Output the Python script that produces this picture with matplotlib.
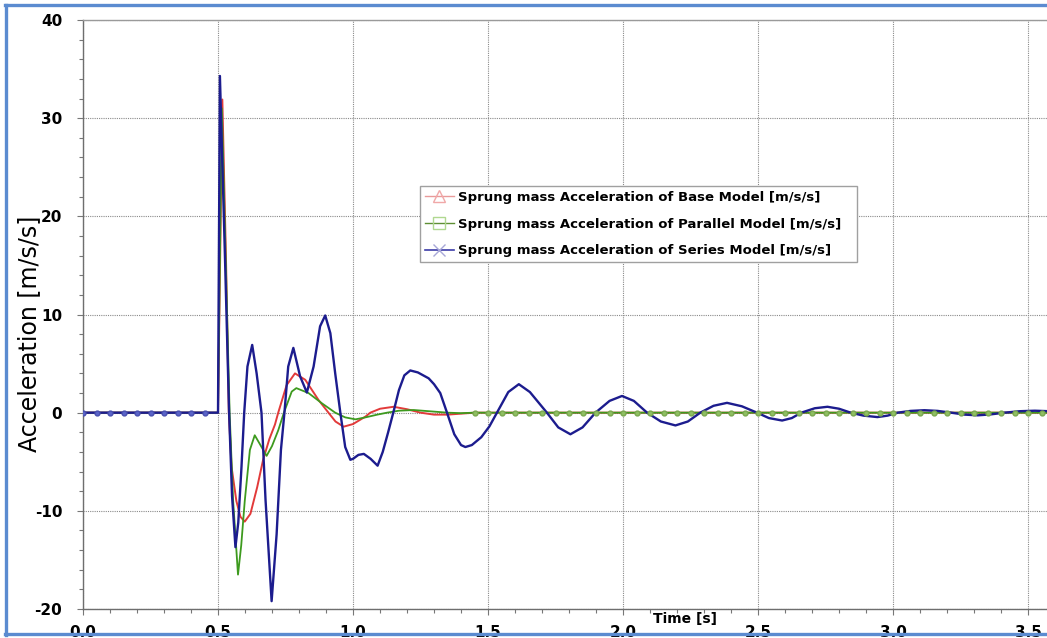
import matplotlib
matplotlib.use("Agg")
import matplotlib.pyplot as plt
from matplotlib.lines import Line2D
from matplotlib.ticker import MultipleLocator, FormatStrFormatter

plt.rcParams['font.family'] = ['DejaVu Sans']
plt.rcParams['axes.unicode_minus'] = False

# flat part before the bump (solver output every 0.05 s)
lead_t = [0.0, 0.05, 0.1, 0.15, 0.2, 0.25, 0.3, 0.35, 0.4, 0.45]
lead_a = [0.0, 0.0, 0.0, 0.0, 0.0, 0.0, 0.0, 0.0, 0.0, 0.0]

# settled part for base / parallel models
tail_t = [1.45, 1.5, 1.55, 1.6, 1.65, 1.7, 1.75, 1.8, 1.85, 1.9, 1.95,
          2.0, 2.05, 2.1, 2.15, 2.2, 2.25, 2.3, 2.35, 2.4, 2.45,
          2.5, 2.55, 2.6, 2.65, 2.7, 2.75, 2.8, 2.85, 2.9, 2.95,
          3.0, 3.05, 3.1, 3.15, 3.2, 3.25, 3.3, 3.35, 3.4, 3.45,
          3.5, 3.55, 3.6]
tail_a = [0.0, 0.0, 0.0, 0.0, 0.0, 0.0, 0.0, 0.0, 0.0, 0.0, 0.0,
          0.0, 0.0, 0.0, 0.0, 0.0, 0.0, 0.0, 0.0, 0.0, 0.0,
          0.0, 0.0, 0.0, 0.0, 0.0, 0.0, 0.0, 0.0, 0.0, 0.0,
          0.0, 0.0, 0.0, 0.0, 0.0, 0.0, 0.0, 0.0, 0.0, 0.0,
          0.0, 0.0, 0.0]

# base model
base_t = [0.5, 0.516, 0.53, 0.54, 0.55, 0.568, 0.583, 0.599, 0.62, 0.645,
          0.667, 0.69, 0.711, 0.723, 0.754, 0.785, 0.823, 0.872, 0.909, 0.935,
          0.965, 1.0, 1.046, 1.064, 1.1, 1.15, 1.2, 1.25, 1.3, 1.35, 1.4]
base_a = [0.0, 31.9, 15.0, 0.0, -5.5, -9.0, -10.6, -11.1, -10.3, -7.6,
          -4.8, -2.7, -1.2, 0.0, 2.8, 4.0, 3.35, 1.3, 0.0, -0.9,
          -1.43, -1.16, -0.4, 0.0, 0.4, 0.6, 0.35, 0.0, -0.2, -0.2, -0.1]

# parallel model
par_t = [0.5, 0.514, 0.53, 0.543, 0.556, 0.574, 0.586, 0.599, 0.618, 0.636,
         0.655, 0.68, 0.7, 0.723, 0.744, 0.773, 0.79, 0.835, 0.885, 0.934,
         0.971, 1.009, 1.046, 1.09, 1.126, 1.17, 1.225, 1.28, 1.35, 1.4]
par_a = [0.0, 31.0, 14.0, 0.0, -9.0, -16.5, -13.5, -9.0, -3.8, -2.3,
         -3.2, -4.4, -3.4, -1.8, 0.0, 2.15, 2.5, 2.0, 0.95, 0.0,
         -0.48, -0.68, -0.48, -0.2, 0.0, 0.2, 0.27, 0.15, 0.0, -0.05]

# series model
ser_t = [0.5, 0.507, 0.526, 0.541, 0.552, 0.5645, 0.575, 0.587, 0.597, 0.609,
         0.6266, 0.643, 0.661, 0.676, 0.6985, 0.717, 0.733, 0.746, 0.76, 0.779,
         0.804, 0.829, 0.854, 0.878, 0.897, 0.916, 0.934, 0.953, 0.971, 0.99,
         1.0, 1.02, 1.04, 1.065, 1.091, 1.11, 1.13, 1.15, 1.17, 1.19,
         1.212, 1.24, 1.28, 1.3, 1.323, 1.348, 1.375, 1.4, 1.416, 1.44,
         1.475, 1.505, 1.533, 1.575, 1.614, 1.655, 1.718, 1.76, 1.805, 1.85,
         1.898, 1.95, 1.996, 2.04, 2.089, 2.14, 2.194, 2.24, 2.286, 2.335,
         2.385, 2.44, 2.496, 2.54, 2.589, 2.625, 2.66, 2.71, 2.757, 2.8,
         2.843, 2.89, 2.942, 2.98, 3.017, 3.065, 3.116, 3.165, 3.215, 3.265,
         3.314, 3.36, 3.413, 3.47, 3.525, 3.576]
ser_a = [0.0, 34.3, 15.6, 0.0, -8.5, -13.7, -11.2, -5.5, 0.0, 4.7,
         6.9, 4.0, 0.0, -8.9, -19.2, -12.4, -3.8, 0.0, 4.7, 6.6,
         3.7, 2.05, 4.7, 8.8, 9.9, 8.1, 4.0, 0.0, -3.5, -4.8,
         -4.7, -4.3, -4.2, -4.7, -5.4, -4.0, -2.0, 0.1, 2.3, 3.8,
         4.3, 4.1, 3.5, 2.9, 2.0, 0.0, -2.2, -3.3, -3.5, -3.3,
         -2.5, -1.4, 0.0, 2.1, 2.9, 2.1, 0.0, -1.5, -2.2, -1.5,
         0.0, 1.2, 1.7, 1.2, 0.0, -0.9, -1.3, -0.9, 0.0, 0.7,
         1.0, 0.65, 0.0, -0.55, -0.8, -0.55, 0.0, 0.45, 0.6, 0.4,
         0.0, -0.3, -0.45, -0.3, 0.0, 0.18, 0.25, 0.18, 0.0, -0.2,
         -0.27, -0.18, 0.0, 0.15, 0.2, 0.15]

labels = ['Sprung mass Acceleration of Base Model [m/s/s]',
          'Sprung mass Acceleration of Parallel Model [m/s/s]',
          'Sprung mass Acceleration of Series Model [m/s/s]']

RED, GREEN, BLUE = '#e23a3a', '#3d9a1e', '#1c1c8e'

fig = plt.figure(figsize=(10.47, 6.38), dpi=100)
ax = fig.add_axes([83 / 1047, 1 - 609 / 638, 964 / 1047, 589 / 638])

ax.plot(lead_t + base_t + tail_t, lead_a + base_a + tail_a, color=RED, lw=1.4, zorder=3)
ax.plot(lead_t + par_t + tail_t, lead_a + par_a + tail_a, color=GREEN, lw=1.3, zorder=4)
ax.plot(lead_t + ser_t, lead_a + ser_a, color=BLUE, lw=1.7, zorder=5)
# sample dots on the flat stretches
ax.plot(tail_t, tail_a, ls='none', marker='o', ms=3.5, color='#8fbf62', mec='#7aa850', zorder=6)
ax.plot(lead_t, lead_a, ls='none', marker='o', ms=3.5, color='#5a64c8', mec='#4a50b0', zorder=6)

ax.set_xlim(0, 3.57)
ax.set_ylim(-20, 40)
ax.xaxis.set_major_locator(MultipleLocator(0.5))
ax.xaxis.set_minor_locator(MultipleLocator(0.1))
ax.yaxis.set_major_locator(MultipleLocator(10))
ax.yaxis.set_minor_locator(MultipleLocator(2))
ax.xaxis.set_major_formatter(FormatStrFormatter('%.1f'))

ax.grid(True, which='major', color='#8a8a8a', lw=0.8, ls=(0, (1, 1)))
for side in ['left', 'bottom', 'top']:
    ax.spines[side].set_color('#6e6e6e')
    ax.spines[side].set_linewidth(1.0)
ax.spines['top'].set_color('#9a9a9a')
ax.spines['right'].set_visible(False)

ax.tick_params(axis='both', which='both', direction='out', colors='#777777',
               labelcolor='black', width=0.8)
ax.tick_params(axis='both', which='major', length=4, labelsize=11)
ax.tick_params(axis='both', which='minor', length=3)
ax.tick_params(axis='x', which='major', pad=7.5)
ax.tick_params(axis='y', which='major', pad=11)
for lab in ax.get_xticklabels() + ax.get_yticklabels():
    lab.set_fontweight('bold')

ax.set_ylabel('Acceleration [m/s/s]', fontsize=17)
ax.yaxis.set_label_coords(-0.043, 0.467)
ax.set_xlabel('Time [s]', fontsize=10, fontweight='bold')
ax.xaxis.set_label_coords(0.6245, -0.005)

handles = [
    Line2D([], [], color='#e99a9a', lw=1.0, marker='^', mfc='none', mec='#f0a8a8', ms=9),
    Line2D([], [], color='#5e8f34', lw=1.0, marker='s', mfc='none', mec='#b0d890', ms=8),
    Line2D([], [], color='#3c3ca8', lw=1.2, marker='x', mec='#a8a8d8', ms=8),
]
leg = ax.legend(handles, labels, loc='upper left',
                bbox_to_anchor=(0.3496, 0.5, 0.4533, 0.218), mode='expand',
                borderaxespad=0, prop={'weight': 'bold', 'size': 9.5},
                fancybox=False, framealpha=1, edgecolor='#a0a0a0',
                handlelength=2.2, handletextpad=0.3, labelspacing=1.05,
                borderpad=0.35)
leg.get_frame().set_linewidth(1.0)
leg.set_zorder(10)

# frame drawn round the figure
for xs, ys in [([6, 6], [5, 635]), ([5, 1047], [5, 5]), ([5, 1047], [634, 634])]:
    fig.add_artist(Line2D([x / 1047 for x in xs], [1 - y / 638 for y in ys],
                          color='#5b8bd0', lw=2.4, transform=fig.transFigure))

fig.savefig('out.png', dpi=100)
